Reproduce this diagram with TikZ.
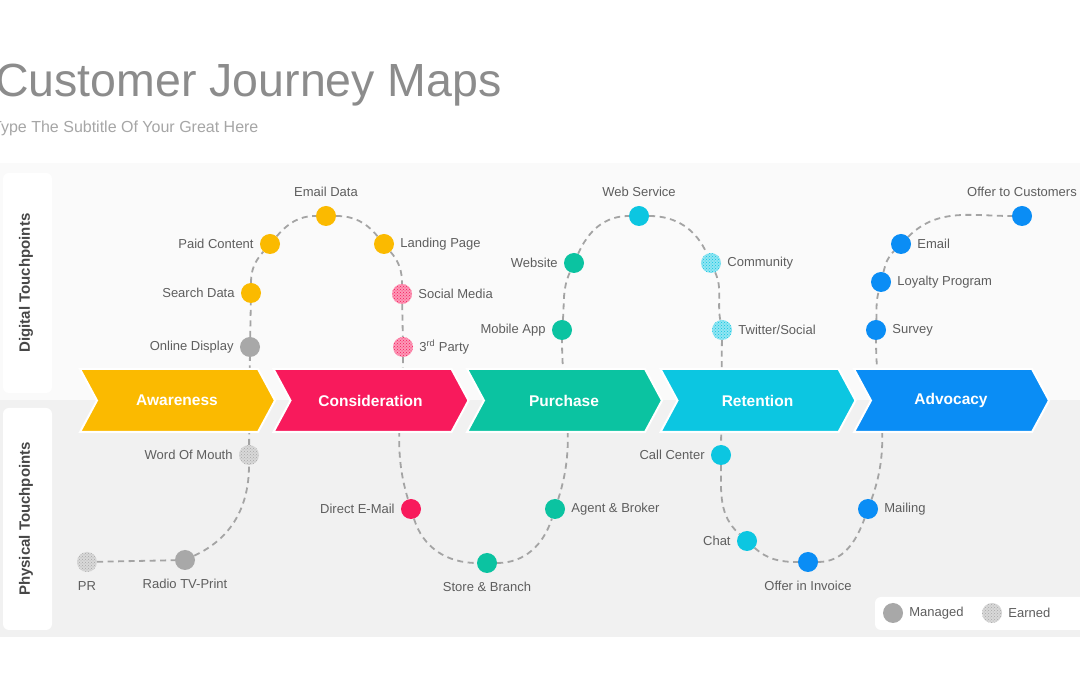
\documentclass[tikz,border=0pt]{standalone}
\usepackage{fontspec}
\setmainfont{Liberation Sans}
\usetikzlibrary{patterns}
\definecolor{gold}{HTML}{FBBA00}
\definecolor{rose}{HTML}{F81A5C}
\definecolor{jade}{HTML}{0BC3A1}
\definecolor{sky}{HTML}{0CC6E1}
\definecolor{ocean}{HTML}{0A8DF5}
\definecolor{stone}{HTML}{A8A8A8}
\definecolor{ink}{HTML}{5E5E5E}
\definecolor{trailgray}{HTML}{A4A4A4}
\pgfdeclarelayer{back}
\pgfdeclarelayer{trail}
\pgfsetlayers{back,trail,main}
\newcommand{\stage}[4]{%
	\fill[#3, draw=white, line width=2pt] (#2,306) -- ++(178,0) -- ++(17,-31.5) -- ++(-17,-31.5) -- ++(-178,0) -- ++(17,31.5) -- cycle;
	\node[stagetext] (#1) at ([xshift=97pt]#2,274.5) {#4};%
}
\tikzset{
	dot/.style={circle, fill=#1, minimum size=20pt, inner sep=0pt},
	earned/.style={circle, minimum size=20pt, inner sep=0pt, preaction={fill=#1!45!white}, pattern=crosshatch dots, pattern color=#1},
	lbl/.style={text=ink, font=\fontsize{13}{15}\selectfont, inner sep=6pt},
	lblfar/.style={lbl, inner sep=9pt},
	stagetext/.style={text=white, font=\bfseries\fontsize{15.5}{17}\selectfont},
	sidetext/.style={rotate=90, text=black!72, font=\bfseries\fontsize{15}{17}\selectfont},
	trailline/.style={draw=trailgray, line width=1.8pt, dash pattern=on 6pt off 4.5pt}
}

\begin{document}
\begin{tikzpicture}[x=1pt,y=1pt]
		\useasboundingbox (0,0) rectangle (1080,675);
		\clip (0,0) rectangle (1080,675);
		\begin{pgfonlayer}{back}
			\fill[white] (0,0) rectangle (1080,675);
			\fill[black!2] (0,275) rectangle (1080,512);
			\fill[black!5.5] (0,38) rectangle (1080,275);
			\fill[white, rounded corners=6pt] (3,282) rectangle (52,502);
			\fill[white, rounded corners=6pt] (3,45) rectangle (52,267);
			\fill[white, rounded corners=6pt] (875,45) rectangle (1095,78);
		\end{pgfonlayer}
		\node[anchor=base west, inner sep=0pt, text=black!45, font=\fontsize{46.5}{50}\selectfont] (title) at (-5,578) {Customer Journey Maps};
		\node[anchor=base west, inner sep=0pt, text=black!35, font=\fontsize{16}{18}\selectfont] (subtitle) at (-8,542) {Type The Subtitle Of Your Great Here};
		\node[sidetext] (digital) at (26,392) {Digital Touchpoints};
		\node[sidetext] (physical) at (26,156) {Physical Touchpoints};
		\stage{awareness}{80}{gold}{Awareness}
		\stage{consideration}{273.5}{rose}{Consideration}
		\stage{purchase}{467}{jade}{Purchase}
		\stage{retention}{660.5}{sky}{Retention}
		\stage{advocacy}{854}{ocean}{Advocacy}
		\node[dot=stone, label={[lbl]left:Online Display}] (onlinedisplay) at (250,328) {};
		\node[dot=gold, label={[lbl]left:Search Data}] (searchdata) at (251,382) {};
		\node[dot=gold, label={[lbl]left:Paid Content}] (paidcontent) at (270,431) {};
		\node[dot=gold, label={[lblfar]above:Email Data}] (emaildata) at (326,459) {};
		\node[dot=gold, label={[lbl]right:Landing Page}] (landingpage) at (384,431) {};
		\node[earned=rose, label={[lbl]right:Social Media}] (socialmedia) at (402,381) {};
		\node[earned=rose, label={[lbl]right:3\textsuperscript{rd} Party}] (thirdparty) at (403,328) {};
		\node[earned=stone, label={[lbl]left:Word Of Mouth}] (wordofmouth) at (249,220) {};
		\node[dot=stone, label={[lblfar]below:Radio TV-Print}] (radiotv) at (185,115) {};
		\node[earned=stone, label={[lblfar]below:PR}] (pr) at (87,113) {};
		\node[dot=rose, label={[lbl]left:Direct E-Mail}] (directemail) at (411,166) {};
		\node[dot=jade, label={[lblfar]below:Store \& Branch}] (storebranch) at (487,112) {};
		\node[dot=jade, label={[lbl]right:Agent \& Broker}] (agentbroker) at (555,166) {};
		\node[dot=jade, label={[lbl]left:Mobile App}] (mobileapp) at (562,345) {};
		\node[dot=jade, label={[lbl]left:Website}] (website) at (574,412) {};
		\node[dot=sky, label={[lblfar]above:Web Service}] (webservice) at (639,459) {};
		\node[earned=sky, label={[lbl]right:Community}] (community) at (711,412) {};
		\node[earned=sky, label={[lbl]right:Twitter/Social}] (twitter) at (722,345) {};
		\node[dot=sky, label={[lbl]left:Call Center}] (callcenter) at (721,220) {};
		\node[dot=sky, label={[lbl]left:Chat}] (chat) at (747,134) {};
		\node[dot=ocean, label={[lblfar]below:Offer in Invoice}] (offerinvoice) at (808,113) {};
		\node[dot=ocean, label={[lbl]right:Mailing}] (mailing) at (868,166) {};
		\node[dot=ocean, label={[lbl]right:Survey}] (survey) at (876,345) {};
		\node[dot=ocean, label={[lbl]right:Loyalty Program}] (loyalty) at (881,393) {};
		\node[dot=ocean, label={[lbl]right:Email}] (email) at (901,431) {};
		\node[dot=ocean, label={[lblfar]above:Offer to Customers}] (offercustomers) at (1022,459) {};
		\begin{pgfonlayer}{trail}
			\draw[trailline] (pr) -- (radiotv) to[out=25,in=270] (wordofmouth) -- (onlinedisplay) -- (searchdata)
				to[out=90,in=229] (paidcontent) to[out=49,in=180] (emaildata) to[out=0,in=130] (landingpage) to[out=-50,in=90] (socialmedia)
				-- (thirdparty) to[out=-90,in=107] (directemail) to[out=-73,in=180] (storebranch) to[out=0,in=252] (agentbroker) to[out=72,in=270] (mobileapp)
				to[out=85,in=246] (website) to[out=66,in=180] (webservice) to[out=0,in=114] (community) to[out=-66,in=100] (twitter)
				-- (callcenter) to[out=-90,in=138] (chat) to[out=-42,in=180] (offerinvoice) to[out=0,in=250] (mailing) to[out=70,in=270] (survey)
				to[out=88,in=256] (loyalty) to[out=76,in=225] (email) to[out=45,in=180] (offercustomers);
		\end{pgfonlayer}
		\node[dot=stone, label={[lbl]right:Managed}] (managed) at (893,62) {};
		\node[earned=stone, label={[lbl]right:Earned}] (earned) at (992,62) {};
	\end{tikzpicture}
\end{document}
